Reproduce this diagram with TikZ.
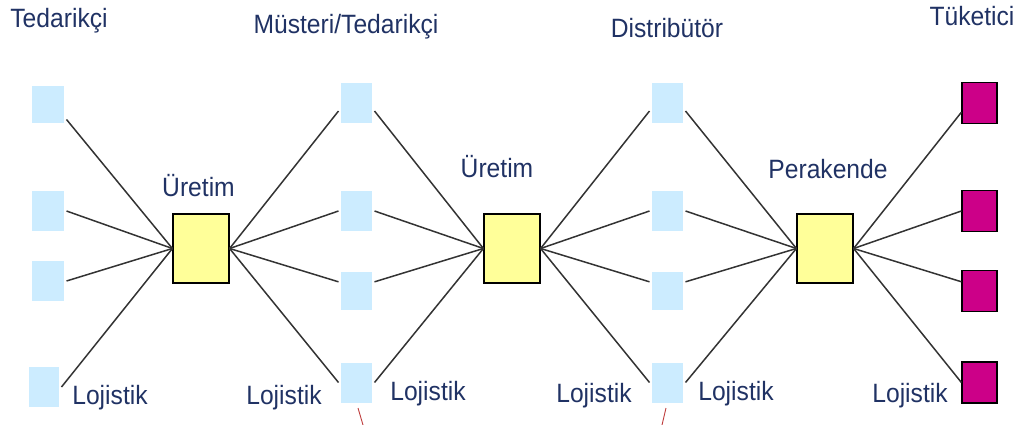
\documentclass[tikz,border=0pt]{standalone}
\usepackage{fontspec}
\setmainfont[FakeStretch=0.93]{Liberation Sans}
\definecolor{supply}{RGB}{204,236,255}
\definecolor{hubfill}{RGB}{255,255,153}
\definecolor{consumer}{RGB}{204,0,136}
\definecolor{labelblue}{RGB}{32,50,100}
\definecolor{tickred}{RGB}{190,60,60}
\begin{document}
\begin{tikzpicture}[x=1pt,y=-1pt,
  supbox/.style={rectangle, fill=supply, inner sep=0pt, minimum width=31pt, minimum height=39pt, outer sep=2.5pt},
  hub/.style={rectangle, draw=black, line width=1.2pt, fill=hubfill, inner sep=0pt, minimum width=56pt, minimum height=69pt},
  endbox/.style={rectangle, draw=black, line width=1.2pt, fill=consumer, inner sep=0pt, minimum width=35pt, minimum height=41pt},
  lbl/.style={text=labelblue, font=\fontsize{26.5}{30}\selectfont, inner sep=0pt, anchor=base},
  conn/.style={draw=black!80, line width=1.5pt},
  tick/.style={draw=tickred, line width=0.9pt}]
\useasboundingbox (0,0) rectangle (1025,425);

% suppliers
\node[supbox, minimum width=32pt, minimum height=37pt] (a1) at (48,104.5) {};
\node[supbox, minimum width=32pt, minimum height=40pt] (a2) at (48,211) {};
\node[supbox, minimum width=32pt, minimum height=40pt] (a3) at (48,281) {};
\node[supbox, minimum width=30pt, minimum height=40pt] (a4) at (44,387) {};

% production, distribution and retail hubs
\node[hub] (h1) at (201,248.5) {};
\node[hub] (h2) at (512,248.5) {};
\node[hub] (h3) at (825,248.5) {};

% customer / supplier tier
\node[supbox, minimum height=40pt] (b1) at (356.5,103) {};
\node[supbox, minimum height=40pt] (b2) at (356.5,211) {};
\node[supbox, minimum height=38pt] (b3) at (356.5,291) {};
\node[supbox, minimum height=40pt] (b4) at (356.5,382.5) {};

% distributors
\node[supbox, minimum height=40pt] (c1) at (667.5,103) {};
\node[supbox, minimum height=40pt] (c2) at (667.5,211) {};
\node[supbox, minimum height=38pt] (c3) at (667.5,291) {};
\node[supbox, minimum height=40pt] (c4) at (667.5,382.5) {};

% consumers
\node[endbox] (d1) at (979.5,103) {};
\node[endbox] (d2) at (979.5,211) {};
\node[endbox] (d3) at (979.5,291) {};
\node[endbox] (d4) at (979.5,382.5) {};

% connections
\draw[conn] (a1.-39) -- (h1.west);
\draw[conn] (a2.east) -- (h1.west);
\draw[conn] (a3.east) -- (h1.west);
\draw[conn] (a4.east) -- (h1.west);

\draw[conn] (h1.east) -- (b1.-156);
\draw[conn] (h1.east) -- (b2.west);
\draw[conn] (h1.east) -- (b3.153);
\draw[conn] (h1.east) -- (b4.west);
\draw[conn] (b1.-24) -- (h2.west);
\draw[conn] (b2.east) -- (h2.west);
\draw[conn] (b3.27) -- (h2.west);
\draw[conn] (b4.east) -- (h2.west);

\draw[conn] (h2.east) -- (c1.-156);
\draw[conn] (h2.east) -- (c2.west);
\draw[conn] (h2.east) -- (c3.153);
\draw[conn] (h2.east) -- (c4.west);
\draw[conn] (c1.-24) -- (h3.west);
\draw[conn] (c2.east) -- (h3.west);
\draw[conn] (c3.27) -- (h3.west);
\draw[conn] (c4.east) -- (h3.west);

\draw[conn] (h3.east) -- (d1.-153);
\draw[conn] (h3.east) -- (d2.west);
\draw[conn] (h3.east) -- (d3.153);
\draw[conn] (h3.east) -- (d4.west);

% tier headings
\node[lbl] (t1) at (59,28) {Tedarikçi};
\node[lbl] (t2) at (346,34) {Müsteri/Tedarikçi};
\node[lbl] (t3) at (667,38) {Distribütör};
\node[lbl] (t4) at (972,26) {Tüketici};

% hub labels
\node[lbl] (u1) at (198.5,196) {Üretim};
\node[lbl] (u2) at (497,177) {Üretim};
\node[lbl] (p3) at (828,178) {Perakende};

% logistics labels
\node[lbl] (l1) at (110,404) {Lojistik};
\node[lbl] (l2) at (284,404) {Lojistik};
\node[lbl] (l3) at (428,400) {Lojistik};
\node[lbl] (l4) at (594,402) {Lojistik};
\node[lbl] (l5) at (736,400) {Lojistik};
\node[lbl] (l6) at (910,402) {Lojistik};

% small red marks below the bottom boxes
\coordinate (k1a) at (358,408);
\coordinate (k1b) at (363,425);
\coordinate (k2a) at (666,408);
\coordinate (k2b) at (662,425);
\draw[tick] (k1a) -- (k1b);
\draw[tick] (k2a) -- (k2b);
\end{tikzpicture}
\end{document}
